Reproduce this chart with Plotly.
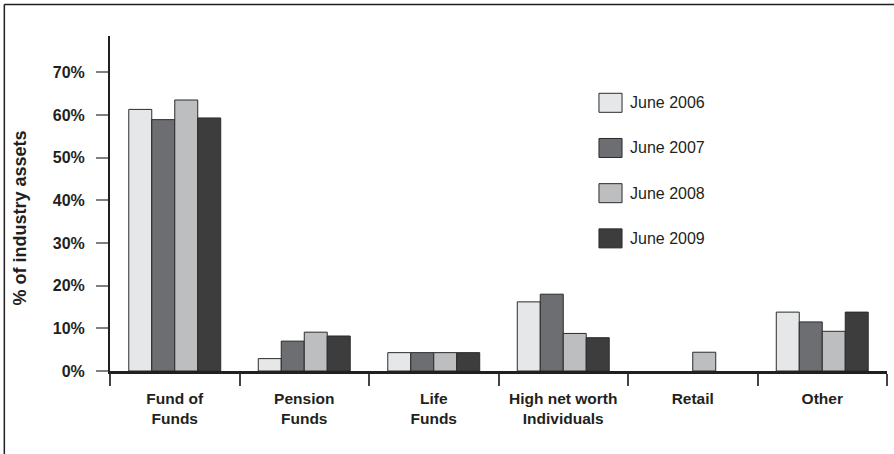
import plotly.graph_objects as go

categories = ["Fund of<br>Funds", "Pension<br>Funds", "Life<br>Funds",
              "High net worth<br>Individuals", "Retail", "Other"]
series_names = ["June 2006", "June 2007", "June 2008", "June 2009"]
june_2006 = [61.3, 2.9, 4.3, 16.2, None, 13.8]
june_2007 = [58.9, 7.0, 4.3, 18.0, None, 11.5]
june_2008 = [63.5, 9.1, 4.3, 8.8, 4.4, 9.3]
june_2009 = [59.3, 8.2, 4.3, 7.8, None, 13.8]
series_values = [june_2006, june_2007, june_2008, june_2009]
colors = ["#e6e7e8", "#6d6e71", "#bcbec0", "#3d3d3e"]
y_tickvals = [0, 10, 20, 30, 40, 50, 60, 70]
y_ticktext = ["0%", "10%", "20%", "30%", "40%", "50%", "60%", "70%"]

FONT = "Liberation Sans, Arial, Helvetica, sans-serif"
INK = "#231f20"

fig = go.Figure()
for name, vals, col in zip(series_names, series_values, colors):
    fig.add_trace(go.Bar(
        x=categories, y=vals, name=name, showlegend=False,
        marker=dict(color=col, line=dict(color="#2b2b2b", width=1)),
    ))

# Manual legend (large swatches like the reference)
shapes = []
annotations = []
leg_x0, leg_x1, leg_tx = 0.6293, 0.659, 0.6667
leg_y0, leg_dy, half_h = 0.8006, 0.1349, 0.0284
for i, (name, col) in enumerate(zip(series_names, colors)):
    yc = leg_y0 - i * leg_dy
    shapes.append(dict(type="rect", xref="paper", yref="paper",
                       x0=leg_x0, x1=leg_x1, y0=yc - half_h, y1=yc + half_h,
                       fillcolor=col, line=dict(color="#2b2b2b", width=1)))
    annotations.append(dict(xref="paper", yref="paper", x=leg_tx, y=yc,
                            xanchor="left", yanchor="middle", showarrow=False,
                            text=name, font=dict(family=FONT, size=16, color=INK)))

# Outer frame (top and left edges)
shapes.append(dict(type="line", xref="paper", yref="paper",
                   x0=-0.136, x1=1.2, y0=1.094, y1=1.094,
                   line=dict(color=INK, width=1.5)))
shapes.append(dict(type="line", xref="paper", yref="paper",
                   x0=-0.136, x1=-0.136, y0=1.094, y1=-0.4,
                   line=dict(color=INK, width=1.5)))

annotations.append(dict(xref="paper", yref="paper", x=-0.1158, y=0.455,
                        xanchor="center", yanchor="middle", showarrow=False,
                        textangle=-90, text="<b>% of industry assets</b>",
                        font=dict(family=FONT, size=18, color=INK)))

fig.update_layout(
    width=894, height=454,
    margin=dict(l=110, r=7, t=36, b=83, autoexpand=False),
    paper_bgcolor="white", plot_bgcolor="white",
    barmode="group", bargap=0.29, bargroupgap=0,
    font=dict(family=FONT, color=INK),
    shapes=shapes, annotations=annotations,
    showlegend=False,
    xaxis=dict(
        type="category", showline=True, linecolor=INK, linewidth=3,
        ticks="outside", tickson="boundaries", ticklen=12, tickwidth=1.5,
        tickcolor="#444444", showgrid=False, zeroline=False,
        tickfont=dict(family=FONT, size=15.5, color=INK),
        tickprefix="<b>", ticksuffix="</b>", tickangle=0, automargin=False,
        ticklabelstandoff=11,
    ),
    yaxis=dict(
        range=[0, 78.5], tickvals=y_tickvals, ticktext=["<b>%s</b>" % t for t in y_ticktext],
        showline=True, linecolor=INK, linewidth=2, automargin=False,
        ticks="outside", ticklen=12, tickwidth=2, tickcolor="#808080",
        showgrid=False, zeroline=False,
        tickfont=dict(family=FONT, size=16, color=INK),
        ticklabelstandoff=8,
    ),
)

fig.write_html("out.html")
